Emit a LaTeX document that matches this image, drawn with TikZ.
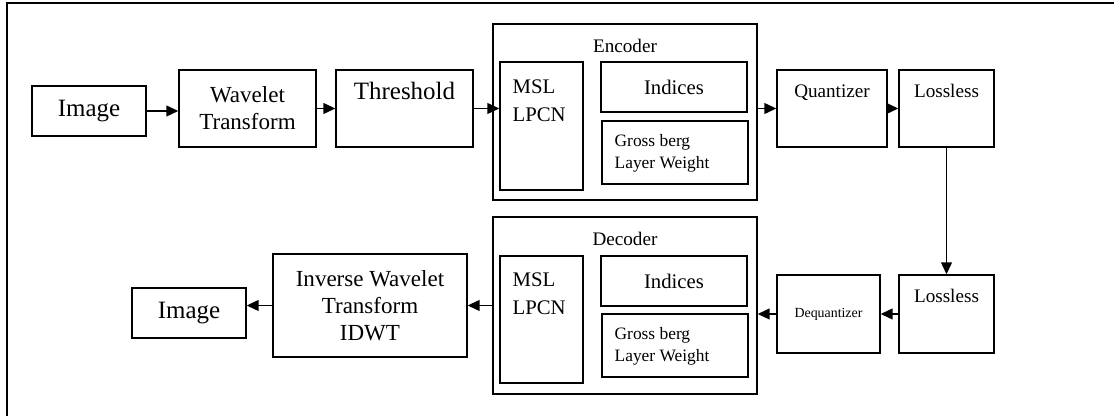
\documentclass[tikz,border=0pt]{standalone}
\usepackage{fontspec}
\setmainfont{Liberation Serif}
\usetikzlibrary{positioning,arrows.meta}

\newcommand{\fntA}{\fontsize{14.2}{17}\selectfont}
\newcommand{\fntB}{\fontsize{13.1}{15.3}\selectfont}
\newcommand{\fntC}{\fontsize{11.8}{15.9}\selectfont}
\newcommand{\fntD}{\fontsize{10.9}{13}\selectfont}
\newcommand{\fntE}{\fontsize{9.9}{12.5}\selectfont}
\newcommand{\fntF}{\fontsize{7.9}{9.5}\selectfont}

\tikzstyle{term} = [draw=black, line width=0.8pt, text centered, inner sep=0pt, anchor=center]
\tikzstyle{word} = [inner sep=0pt, align=left]
\tikzstyle{flow} = [draw=black, line width=0.8pt, -{Triangle[length=6.8pt,width=6.2pt]}]

\begin{document}
\begin{tikzpicture}
	\useasboundingbox (0,0) rectangle (22.28,8.32);
	\draw[line width=1pt] (22.28,8.26) -| (0.14,0);

	% forward path
	\node (img1)  [term, minimum width=2.28cm, minimum height=1cm, font=\fntA] at (1.78,6.10) {Image};
	\node (wav)   [term, minimum width=2.74cm, minimum height=1.54cm, font=\fntB, align=center] at (4.95,6.15) {Wavelet\\Transform};
	\node (thr)   [term, minimum width=2.74cm, minimum height=1.54cm] at (8.09,6.15) {};
	\node (thrText) [word, font=\fntA, below=0.26cm of thr.north] {Threshold};

	\node (enc)    [term, minimum width=5.28cm, minimum height=3.52cm] at (12.5,6.08) {};
	\node (encText) [word, font=\fntD, below=0.32cm of enc.north] {Encoder};
	\node (encMSL) [term, minimum width=1.66cm, minimum height=2.56cm] at (10.83,5.80) {};
	\node (encMSLText) [word, font=\fntC, below right=0.36cm and 0.26cm of encMSL.north west] {MSL\\LPCN};
	\node (encIdx) [term, minimum width=2.92cm, minimum height=1cm, font=\fntC] at (13.48,6.58) {Indices};
	\node (encGB)  [term, minimum width=2.92cm, minimum height=1.26cm] at (13.5,5.27) {};
	\node (encGBText) [word, font=\fntE, below right=0.28cm and 0.26cm of encGB.north west] {Gross berg\\Layer Weight};

	\node (quant)  [term, minimum width=2.2cm, minimum height=1.54cm] at (16.64,6.15) {};
	\node (quantText) [word, font=\fntD, below=0.30cm of quant.north] {Quantizer};
	\node (loss1)  [term, minimum width=1.9cm, minimum height=1.54cm] at (18.93,6.15) {};
	\node (loss1Text) [word, font=\fntD, below=0.30cm of loss1.north] {Lossless};

	% return path
	\node (loss2)  [term, minimum width=1.9cm, minimum height=1.56cm] at (18.93,2.04) {};
	\node (loss2Text) [word, font=\fntD, below=0.30cm of loss2.north] {Lossless};
	\node (deq)    [term, minimum width=2.06cm, minimum height=1.56cm, font=\fntF] at (16.57,2.04) {Dequantizer};

	\node (dec)    [term, minimum width=5.28cm, minimum height=3.54cm] at (12.5,2.21) {};
	\node (decText) [word, font=\fntD, below=0.32cm of dec.north] {Decoder};
	\node (decMSL) [term, minimum width=1.66cm, minimum height=2.54cm] at (10.83,1.93) {};
	\node (decMSLText) [word, font=\fntC, below right=0.34cm and 0.26cm of decMSL.north west] {MSL\\LPCN};
	\node (decIdx) [term, minimum width=2.92cm, minimum height=1cm, font=\fntC] at (13.48,2.70) {Indices};
	\node (decGB)  [term, minimum width=2.92cm, minimum height=1.26cm] at (13.5,1.41) {};
	\node (decGBText) [word, font=\fntE, below right=0.28cm and 0.26cm of decGB.north west] {Gross berg\\Layer Weight};

	\node (idwt)   [term, minimum width=3.88cm, minimum height=2.06cm, font=\fntB, align=center] at (7.40,2.21) {Inverse Wavelet\\Transform\\IDWT};
	\node (img2)   [term, minimum width=2.28cm, minimum height=1cm, font=\fntA] at (3.78,2.06) {Image};

	\draw[flow] (img1.east) -- (img1.east -| wav.west);
	\draw[flow] (wav.east) -- (wav.east -| thr.west);
	\draw[flow] (thr.east) -- (thr.east -| encMSL.west);
	\draw[flow] (quant.west -| enc.east) -- (quant.west);
	\draw[flow] (quant) -- (loss1);
	\draw[flow] (loss1) -- (loss2);
	\draw[flow] (loss2) -- (deq);
	\draw[flow] (deq.west) -- (deq.west -| dec.east);
	\draw[flow] (dec) -- (idwt);
	\draw[flow] (idwt.west) -- (idwt.west -| img2.east);
\end{tikzpicture}
\end{document}
